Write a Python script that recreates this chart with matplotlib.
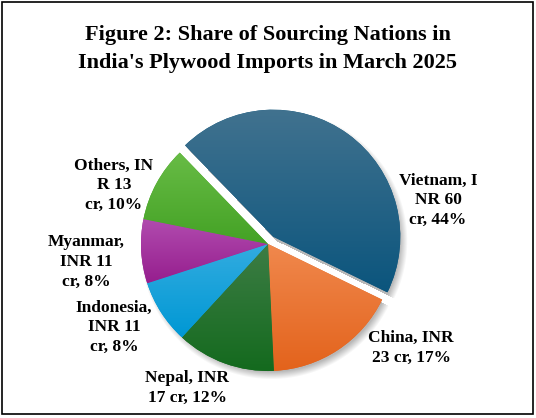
import matplotlib
matplotlib.use("Agg")
import matplotlib.pyplot as plt
import numpy as np
from matplotlib.colors import LinearSegmentedColormap
from matplotlib.patches import Rectangle

# data
countries = ["Vietnam", "China", "Nepal", "Indonesia", "Myanmar", "Others"]
values = [60, 23, 17, 11, 11, 13]
pcts = [44, 17, 12, 8, 8, 10]
labels = ["Vietnam, I\nNR 60\ncr, 44%", "China, INR\n23 cr, 17%", "Nepal, INR\n17 cr, 12%",
          "Indonesia,\nINR 11\ncr, 8%", "Myanmar,\nINR 11\ncr, 8%", "Others, IN\nR 13\ncr, 10%"]
# light (top) / dark (bottom) colours for each wedge
top_colors = ["#41728f", "#f0884d", "#3d7d45", "#33ace0", "#b14caf", "#68bc46"]
bottom_colors = ["#0b557d", "#e3631c", "#146a1e", "#0098d4", "#961e8e", "#44a225"]
label_pos = [(438, 200), (411, 348), (187, 388), (114, 327), (86, 262), (114, 185)]

W, H = 536, 418
fig = plt.figure(figsize=(W / 100, H / 100), dpi=100)
ax = fig.add_axes([0, 0, 1, 1])

cx, cy, r = 268, H - 244, 127
off = 9
a0, a1 = -26, 134  # angular span of the pulled-out slice

# soft shadow: one for the pie body, one for the pulled-out slice
yy, xx = np.mgrid[0:H, 0:W]
py = H - yy
sx, sy = 3, -4
d = np.hypot(xx - (cx + sx), py - (cy + sy))
ang = np.degrees(np.arctan2(py - (cy + sy), xx - (cx + sx)))
body = ~((ang > a0) & (ang < a1))
alpha = np.clip((r + 4 - d) / 8, 0, 1) * body
vx, vy = cx + off * np.cos(np.radians(54)), cy + off * np.sin(np.radians(54))
d2 = np.hypot(xx - (vx + sx), py - (vy + sy))
ang2 = np.degrees(np.arctan2(py - (vy + sy), xx - (vx + sx)))
in_v = (ang2 > a0) & (ang2 < a1)
alpha = np.maximum(alpha, np.clip((r + 4 - d2) / 8, 0, 1) * in_v)
shadow = np.zeros((H, W, 4))
shadow[..., 3] = alpha * 0.28
ax.imshow(shadow, extent=(0, W, 0, H), origin="upper", zorder=0, interpolation="bilinear")

# explode in pie() is in data units here
explode = [off, 0, 0, 0, 0, 0]
wedges, _ = ax.pie(values, startangle=134, counterclock=False, explode=explode,
                   center=(cx, cy), radius=r, colors=bottom_colors,
                   wedgeprops=dict(linewidth=0))

# vertical gradient for each wedge
for w, c1, c2 in zip(wedges, top_colors, bottom_colors):
    w.set_zorder(1)
    ext = w.get_path().get_extents()
    x0, y0, x1, y1 = ext.x0, ext.y0, ext.x1, ext.y1
    cmap = LinearSegmentedColormap.from_list("g", [c2, c1])
    grad = np.linspace(0, 1, 200).reshape(-1, 1)
    im = ax.imshow(grad, cmap=cmap, extent=(x0, x1, y0, y1), origin="lower",
                   aspect="auto", zorder=2)
    im.set_clip_path(w)

for lab, (lx, ly) in zip(labels, label_pos):
    ax.text(lx, H - ly, lab, ha="center", va="center", fontsize=12.5, fontweight="bold",
            family="Liberation Serif", linespacing=1.3, zorder=5)

ax.text(W / 2, H - 49, "Figure 2: Share of Sourcing Nations in\nIndia's Plywood Imports in March 2025",
        ha="center", va="center", fontsize=16, fontweight="bold", family="Liberation Serif",
        linespacing=1.55)

ax.add_patch(Rectangle((2, H - 414), 531, 412, fill=False, edgecolor="black", linewidth=1.2, zorder=6))

ax.set_xlim(0, W)
ax.set_ylim(0, H)
ax.set_aspect("auto")
ax.axis("off")

fig.savefig("out.png", dpi=100)
